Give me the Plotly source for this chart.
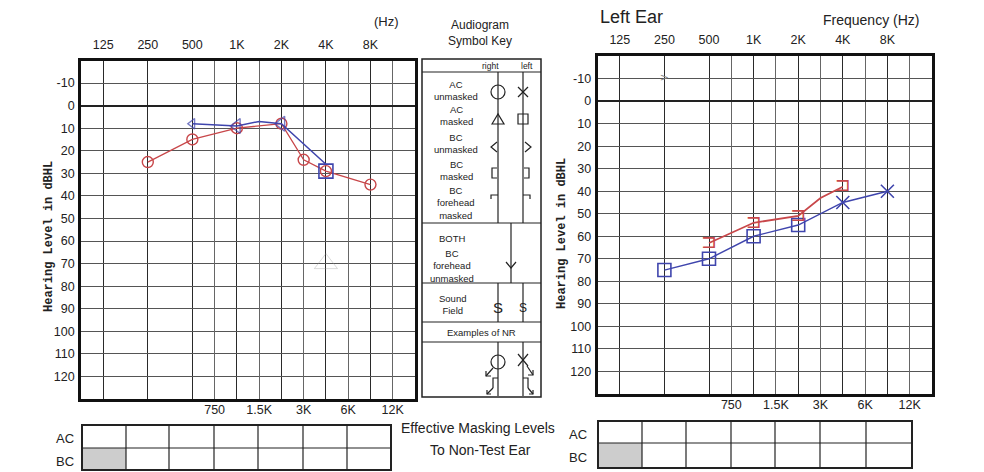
import plotly.graph_objects as go

W, H = 984, 472
OFF = 8              # page body margin of the html page
FW, FH = W - OFF, H - OFF

# ---------------- data ----------------
top_freq_labels = ["125", "250", "500", "1K", "2K", "4K", "8K"]
top_freq_pos = [0, 1, 2, 3, 4, 5, 6]
bot_freq_labels = ["750", "1.5K", "3K", "6K", "12K"]
bot_freq_pos = [2.5, 3.5, 4.5, 5.5, 6.5]
db_ticks = list(range(-10, 130, 10))

# Right ear (left chart)
re_ac_x = [1, 2, 3, 4, 4.5, 5, 6]
re_ac_db = [25, 15, 10, 8, 24, 29, 35]
re_bc_x = [2, 3, 3.5, 4, 5]
re_bc_db = [8, 9, 7, 8, 26]
re_bcm_x = [5]
re_bcm_db = [29]
faint_x = [5]
faint_db = [70]

# Left ear (right chart)
le_ac_x = [1, 2, 3, 4, 5, 6]
le_ac_db = [75, 70, 60, 55, 45, 40]
le_ac_sym = ["square-open", "square-open", "square-open", "square-open", "x-thin-open", "x-thin-open"]
le_bcm_x = [2, 3, 4, 4.5, 5]
le_bcm_db = [63, 54, 51, 43, 38]
le_bcm_txt = ["⊐", "⊐", "⊐", "", "⊐"]
le_bcu_x = [1]
le_bcu_db = [-10]

RED = "#c8474a"
BLUE = "#3f45ad"
FONT = "Liberation Sans, Arial, sans-serif"


def px(x):
    return (x - OFF) / FW


def py(y):
    return 1 - (y - OFF) / FH


fig = go.Figure()

# ---- left chart (right ear)
fig.add_trace(go.Scatter(x=faint_x, y=faint_db, mode="markers", xaxis="x", yaxis="y",
                         marker=dict(symbol="triangle-up-open", size=20, color="rgba(150,150,150,0.35)",
                                     line=dict(width=1)), hoverinfo="skip"))
fig.add_trace(go.Scatter(x=re_ac_x, y=re_ac_db, mode="lines+markers", xaxis="x", yaxis="y",
                         line=dict(color=RED, width=1.3),
                         marker=dict(symbol="circle-open", size=11, color=RED, line=dict(width=1.4))))
fig.add_trace(go.Scatter(x=re_bc_x, y=re_bc_db, mode="lines+markers", xaxis="x", yaxis="y",
                         line=dict(color=BLUE, width=1.5),
                         marker=dict(symbol="triangle-left-open", size=[9, 13, 0, 13, 0], color=BLUE,
                                     line=dict(width=1.4))))
fig.add_trace(go.Scatter(x=re_bcm_x, y=re_bcm_db, mode="markers", xaxis="x", yaxis="y",
                         marker=dict(symbol="square-open", size=14, color=BLUE, line=dict(width=1.6))))
fig.add_trace(go.Scatter(x=bot_freq_pos, y=[None] * len(bot_freq_pos), mode="markers",
                         xaxis="x3", yaxis="y", hoverinfo="skip"))

# ---- right chart (left ear)
fig.add_trace(go.Scatter(x=le_ac_x, y=le_ac_db, mode="lines+markers", xaxis="x2", yaxis="y2",
                         line=dict(color=BLUE, width=1.4),
                         marker=dict(symbol=le_ac_sym, size=13, color=BLUE, line=dict(width=1.6, color=BLUE))))
fig.add_trace(go.Scatter(x=le_bcm_x, y=le_bcm_db, mode="lines+text", xaxis="x2", yaxis="y2",
                         text=le_bcm_txt, textposition="middle center",
                         textfont=dict(size=19, color=RED, family="DejaVu Sans"),
                         line=dict(color=RED, width=1.8)))
fig.add_trace(go.Scatter(x=le_bcu_x, y=le_bcu_db, mode="text", xaxis="x2", yaxis="y2",
                         text=[">"], textposition="middle center",
                         textfont=dict(size=11, color="#888", family="DejaVu Sans")))
fig.add_trace(go.Scatter(x=bot_freq_pos, y=[None] * len(bot_freq_pos), mode="markers",
                         xaxis="x4", yaxis="y2", hoverinfo="skip"))

tickfont = dict(family=FONT, size=12.5, color="#222")


def xtop(domain):
    return dict(domain=domain, range=[-0.5, 7], side="top", tickmode="array",
                tickvals=top_freq_pos, ticktext=top_freq_labels, showgrid=True,
                gridcolor="#2a2a2a", gridwidth=1.4, showline=True, mirror=True,
                linecolor="#111", linewidth=2.6, ticks="", zeroline=False,
                tickfont=tickfont, fixedrange=True, ticklabelstandoff=4)


def xbot(over, anchor):
    return dict(overlaying=over, anchor=anchor, range=[-0.5, 7], side="bottom", tickmode="array",
                tickvals=bot_freq_pos, ticktext=bot_freq_labels, showgrid=True,
                gridcolor="#666", gridwidth=1, showline=False, ticks="", zeroline=False,
                tickfont=tickfont, fixedrange=True, ticklabelstandoff=1)


def yax(domain, anchor):
    return dict(domain=domain, anchor=anchor, range=[130, -20], tickmode="array",
                tickvals=db_ticks, ticktext=[str(v) for v in db_ticks], showgrid=True,
                gridcolor="#555", gridwidth=1, zeroline=True, zerolinecolor="#222",
                zerolinewidth=1.8, showline=True, mirror=True, linecolor="#111",
                linewidth=2.6, ticks="", tickfont=tickfont, fixedrange=True,
                ticklabelstandoff=1)


xa = xtop([px(81), px(415)])
xa["anchor"] = "y"
xb = xtop([px(597.5), px(932)])
xb["anchor"] = "y2"

fig.update_layout(
    width=FW, height=FH, margin=dict(l=0, r=0, t=0, b=0),
    paper_bgcolor="white", plot_bgcolor="white", showlegend=False,
    font=dict(family=FONT, color="#222"),
    xaxis=xa, xaxis2=xb,
    xaxis3=xbot("x", "y"), xaxis4=xbot("x2", "y2"),
    yaxis=yax([py(399), py(60.5)], "x"),
    yaxis2=yax([py(394), py(56)], "x2"),
)

# ---------------- decorations ----------------
shapes = []
ann = []


def line(x0, y0, x1, y1, w=1.2, c="#222"):
    shapes.append(dict(type="line", xref="paper", yref="paper", x0=px(x0), y0=py(y0),
                       x1=px(x1), y1=py(y1), line=dict(color=c, width=w)))


def rect(x0, y0, x1, y1, w=1.2, c="#222", fill=None):
    d = dict(type="rect", xref="paper", yref="paper", x0=px(x0), y0=py(y0),
             x1=px(x1), y1=py(y1), line=dict(color=c, width=w))
    if fill:
        d["fillcolor"] = fill
        d["layer"] = "below"
    shapes.append(d)


def path(pts, w=1.2, c="#222", close=False):
    s = "M " + " L ".join(f"{px(a):.5f} {py(b):.5f}" for a, b in pts)
    if close:
        s += " Z"
    shapes.append(dict(type="path", xref="paper", yref="paper", path=s, line=dict(color=c, width=w)))


def text(x, y, t, size=10, anchor="center", fam=FONT, color="#222", angle=0):
    ann.append(dict(xref="paper", yref="paper", x=px(x), y=py(y), text=t, showarrow=False,
                    xanchor=anchor, yanchor="middle", textangle=angle,
                    font=dict(family=fam, size=size, color=color)))


# header texts
text(386, 22, "(Hz)", 13)
text(480, 33, "Audiogram<br>Symbol Key", 12)
text(598, 17, "Left Ear", 18, anchor="left")
text(871, 20, "Frequency (Hz)", 14)

# axis titles
text(49, 237, "<b>Hearing Level in dBHL</b>", 12, fam="Liberation Mono, monospace", angle=-90)
text(562, 234, "<b>Hearing Level in dBHL</b>", 12, fam="Liberation Mono, monospace", angle=-90)

# ---- symbol key
rect(422, 59, 541, 397, w=1.5)
line(422, 72, 541, 72, w=1.2)
for yy in (223, 283, 322, 342):
    line(422, yy, 541, yy, w=1.2)
line(498, 72, 498, 223)
line(523, 72, 523, 223)
line(511, 223, 511, 283)
line(498, 283, 498, 322)
line(523, 283, 523, 322)
line(498, 342, 498, 396)
line(523, 342, 523, 396)

text(490, 66, "right", 8.5, color="#222")
text(527, 66, "left", 8.5, color="#222")
ks = 9.5
for t, yy in (("AC<br>unmasked", 90), ("AC<br>masked", 116), ("BC<br>unmasked", 143),
              ("BC<br>masked", 170), ("BC<br>forehead<br>masked", 203)):
    text(456, yy, t, ks)
text(452, 238, "BOTH", ks)
text(452, 266, "BC<br>forehead<br>unmasked", ks)
text(452, 304, "Sound<br>Field", ks)
text(481, 332, "Examples of NR", ks)

# key symbols
shapes.append(dict(type="circle", xref="paper", yref="paper", x0=px(491), x1=px(505),
                   y0=py(99), y1=py(85), line=dict(color="#222", width=1.2)))
line(518, 87, 528, 97)
line(528, 87, 518, 97)
path([(492, 124), (498, 114), (504, 124)], close=True)
rect(518, 114, 528, 124)
path([(497, 142), (491, 147), (497, 152)])
path([(525, 142), (531, 147), (525, 152)])
path([(497, 168), (492, 168), (492, 178), (497, 178)])
path([(524, 168), (529, 168), (529, 178), (524, 178)])
path([(491, 199), (491, 195), (498, 195)])
path([(523, 195), (530, 195), (530, 199)])
path([(506, 262), (511, 268), (516, 262)])
text(498, 307, "S", 15)
text(523, 308, "S", 12)
# NR examples
shapes.append(dict(type="circle", xref="paper", yref="paper", x0=px(491), x1=px(505),
                   y0=py(369), y1=py(355), line=dict(color="#222", width=1.2)))
line(493, 368, 486, 376)
path([(486, 371), (486, 376), (491, 376)])
line(518, 354, 528, 366)
line(528, 354, 518, 366)
line(527, 366, 533, 375)
path([(528, 375), (533, 375), (533, 370)])
path([(498, 378), (493, 378), (493, 388)])
line(493, 388, 487, 394)
path([(487, 390), (487, 394), (491, 394)])
path([(523, 378), (528, 378), (528, 388)])
line(528, 388, 533, 394)
path([(529, 394), (533, 394), (533, 390)])


# ---- masking tables
def table(x_cols, y0, ym, y1, lx):
    rect(x_cols[0], ym, x_cols[1], y1, w=0, fill="#cdcdcd")
    rect(x_cols[0], y0, x_cols[-1], y1, w=2)
    line(x_cols[0], ym, x_cols[-1], ym, w=1.2)
    for xc in x_cols[1:-1]:
        line(xc, y0, xc, y1, w=1.2)
    text(lx, (y0 + ym) / 2 + 2, "AC", 13)
    text(lx, (ym + y1) / 2 + 2, "BC", 13)


table([82, 126, 169, 214, 258, 303, 347, 391], 425, 448, 470, 65)
table([598, 642, 686, 731, 775, 820, 866, 912], 421, 443, 468, 578)
text(478, 428, "Effective Masking Levels", 14)
text(480, 450, "To Non-Test Ear", 14)

fig.update_layout(shapes=shapes, annotations=ann)
fig.write_html("out.html")
